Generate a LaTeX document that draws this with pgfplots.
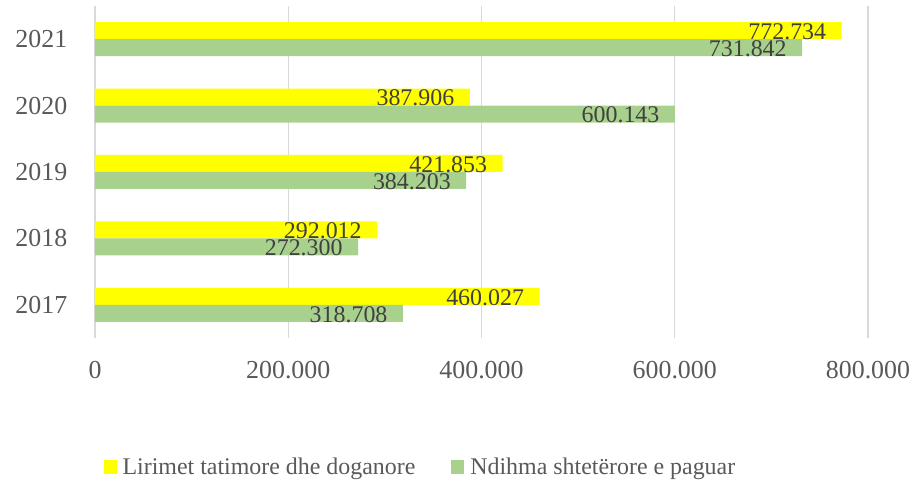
\documentclass[border=0pt]{standalone}
\usepackage{fontspec}
\setmainfont{Liberation Serif}
\usepackage{pgfplots}
\pgfplotsset{compat=1.18}
\definecolor{ylw}{HTML}{FFFF00}
\definecolor{grn}{HTML}{A9D18E}
\definecolor{txt}{HTML}{595959}
\definecolor{lbl}{HTML}{404040}
\definecolor{grd}{HTML}{D9D9D9}
\begin{document}
\begin{tikzpicture}
\path[use as bounding box] (-95bp,-144bp) rectangle (822bp,338bp);
\begin{axis}[
  at={(0bp,0bp)}, anchor=south west,
  scale only axis, width=773bp, height=332bp,
  xbar, bar width=17bp,
  xmin=0, xmax=800000,
  ymin=-0.5, ymax=4.5,
  scaled x ticks=false,
  ytick={0,1,2,3,4}, yticklabels={2017,2018,2019,2020,2021},
  xtick={0,200000,400000,600000,800000},
  xticklabels={0,200.000,400.000,600.000,800.000},
  xmajorgrids, major grid style={grd, line width=1.4bp},
  axis line style={draw=none}, tick style={draw=none},
  xticklabel style={font=\fontsize{26}{30}\selectfont, text=txt, yshift=-20bp},
  yticklabel style={font=\fontsize{26}{30}\selectfont, text=txt, xshift=-20bp},
  nodes near coords={\pgfmathprintnumber[fixed,precision=0,1000 sep={.},assume math mode=true]{\pgfplotspointmeta}},
  every node near coord/.append style={anchor=east, xshift=-12bp, yshift=-1bp, font=\fontsize{24}{26}\selectfont, text=lbl},
  legend style={at={(0.421,-0.389)}, anchor=center, draw=none, fill=none,
    legend columns=2, font=\fontsize{24}{26}\selectfont, text=txt,
    /tikz/every even column/.append style={column sep=34bp},
    legend cell align=left},
  legend image code/.code={\fill[#1] (-4bp,-7bp) rectangle (9bp,7bp); \path (13bp,0bp);},
]
\addplot[draw=none, fill=ylw, bar shift=8.5bp] coordinates {
  (460027,0) (292012,1) (421853,2) (387906,3) (772734,4)};
\addlegendentry{Lirimet tatimore dhe doganore}
\addplot[draw=none, fill=grn, bar shift=-8.5bp] coordinates {
  (318708,0) (272300,1) (384203,2) (600143,3) (731842,4)};
\addlegendentry{Ndihma shtetërore e paguar}
\end{axis}
\end{tikzpicture}
\end{document}
